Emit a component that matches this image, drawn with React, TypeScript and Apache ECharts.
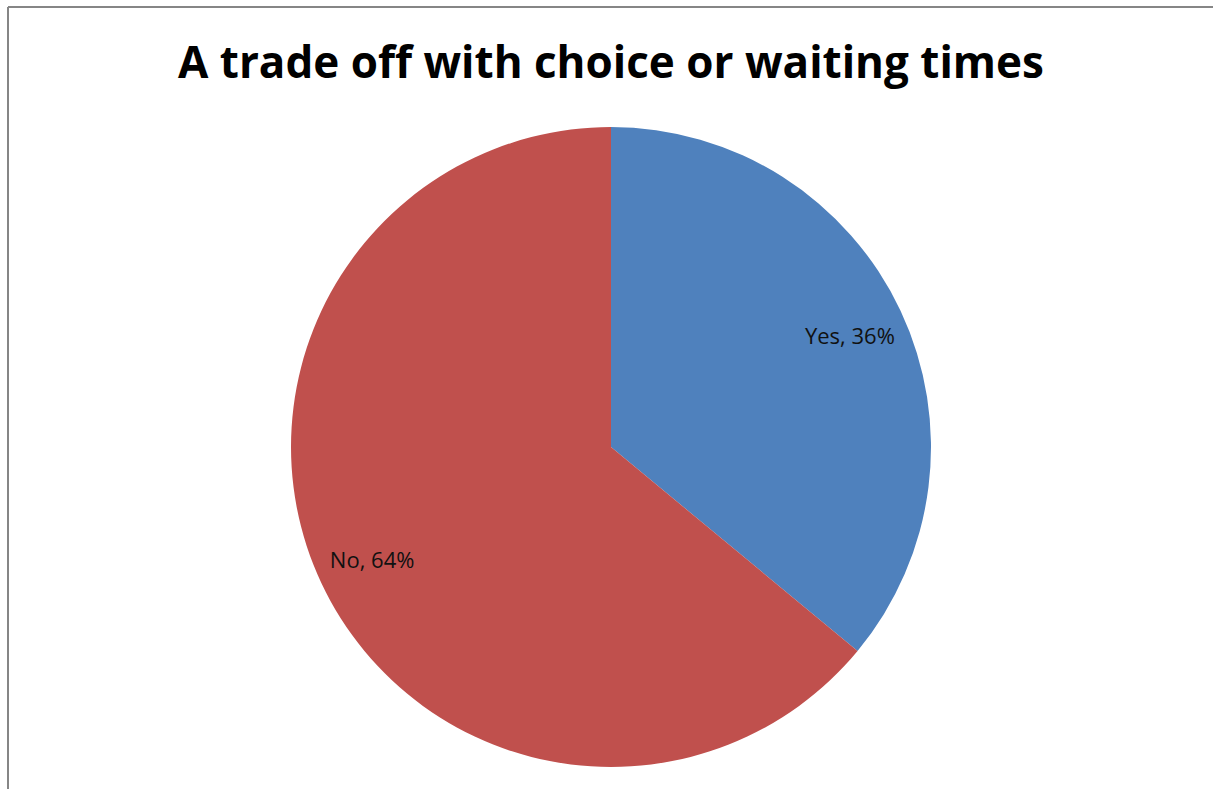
import React, { useEffect, useRef } from "react";
import * as echarts from "echarts";

const titleText = "A trade off with choice or waiting times";
const categories = ["Yes", "No"];
const values = [36, 64];
const colors = ["#4F81BD", "#C0504D"];

export default function App() {
  const ref = useRef<HTMLDivElement>(null);
  useEffect(() => {
    if (!ref.current) return;
    const chart = echarts.init(ref.current, null, { renderer: "svg" });
    const data = categories.map((name, i) => ({
      name,
      value: values[i],
      itemStyle: { color: colors[i] },
    }));
    chart.setOption({
      animation: false,
      backgroundColor: "#ffffff",
      title: {
        text: titleText,
        left: 173,
        top: 34,
        textStyle: {
          fontFamily: "Open Sans",
          fontWeight: "bold",
          fontSize: 44,
          color: "#000000",
        },
      },
      graphic: [
        {
          type: "line",
          shape: { x1: 8, y1: 7, x2: 1213, y2: 7 },
          style: { stroke: "#868686", lineWidth: 2 },
          silent: true,
          z: 100,
        },
        {
          type: "line",
          shape: { x1: 8, y1: 7, x2: 8, y2: 789 },
          style: { stroke: "#868686", lineWidth: 2 },
          silent: true,
          z: 100,
        },
      ],
      series: [
        {
          type: "pie",
          center: [611, 447],
          radius: [0, 320],
          startAngle: 90,
          clockwise: true,
          label: { show: false },
          labelLine: { show: false },
          itemStyle: { borderWidth: 0 },
          silent: true,
          data,
        },
        {
          type: "pie",
          center: [611, 447],
          radius: [200, 322],
          startAngle: 90,
          clockwise: true,
          z: 3,
          silent: true,
          itemStyle: { color: "transparent", borderWidth: 0 },
          label: {
            show: true,
            position: "inside",
            formatter: (p: any) => `${p.name}, ${p.value}%`,
            fontFamily: "Open Sans",
            fontSize: 22,
            color: "#111111",
          },
          labelLine: { show: false },
          data: categories.map((name, i) => ({ name, value: values[i] })),
        },
      ],
    });
    return () => chart.dispose();
  }, []);
  return (
    <div
      ref={ref}
      style={{ position: "fixed", left: 0, top: 0, width: 1213, height: 789 }}
    />
  );
}
